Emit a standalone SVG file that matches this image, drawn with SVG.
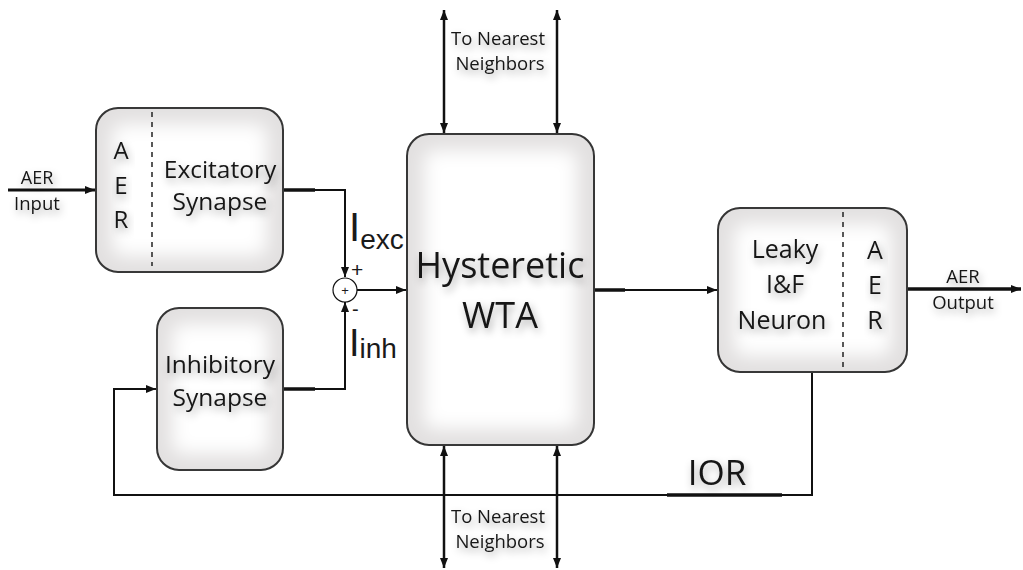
<svg xmlns="http://www.w3.org/2000/svg" width="1023" height="570" viewBox="0 0 1023 570">
<defs>
<marker id="ah" viewBox="0 0 10 10" refX="10" refY="5" markerWidth="10" markerHeight="10" markerUnits="userSpaceOnUse" orient="auto-start-reverse">
<path d="M0,1 L10,5 L0,9 Z" fill="#111"/>
</marker>
<filter id="ts" x="-30%" y="-60%" width="160%" height="220%">
<feGaussianBlur in="SourceAlpha" stdDeviation="4"/>
<feOffset dx="2" dy="4"/>
<feComponentTransfer><feFuncA type="linear" slope="0.35"/></feComponentTransfer>
<feMerge><feMergeNode/><feMergeNode in="SourceGraphic"/></feMerge>
</filter>
<filter id="glow" x="-20%" y="-20%" width="140%" height="140%">
<feGaussianBlur stdDeviation="9"/>
</filter>
</defs>
<style>
.box{fill:#e2e0e0;stroke:#333;stroke-width:2}
.inner{fill:#fff;filter:url(#glow)}
.t{font-family:"Open Sans","Liberation Sans",sans-serif;fill:#161616;text-anchor:middle;filter:url(#ts)}
.h{font-family:"Liberation Sans",Arial,sans-serif;fill:#1a1a1a}
.ln{fill:none;stroke:#111;stroke-width:2}
.thk{fill:none;stroke:#111;stroke-width:3.5}
.dash{stroke:#222;stroke-width:1.5;stroke-dasharray:5,5}
</style>
<rect width="1023" height="570" fill="#fff"/>

<g id="connectors">
<path class="ln" d="M8,190 H95" marker-end="url(#ah)" style="stroke-width:3"/>
<path class="thk" d="M283,190 H315"/>
<path class="ln" d="M314,190 H345 V277" marker-end="url(#ah)"/>
<path class="thk" d="M283,389 H315"/>
<path class="ln" d="M314,389 H345 V302" marker-end="url(#ah)"/>
<path class="ln" d="M357,290 H406" marker-end="url(#ah)"/>
<path class="thk" d="M594,290 H625"/>
<path class="ln" d="M624,290 H717" marker-end="url(#ah)"/>
<path class="thk" d="M907,289 H1021" marker-end="url(#ah)"/>
<path class="ln" d="M812,372 V495 H114 V389 H156" marker-end="url(#ah)"/>
<path class="thk" d="M667,495 H782"/>
<path class="ln" d="M444,10 V133" marker-start="url(#ah)" marker-end="url(#ah)" style="stroke-width:2.5"/>
<path class="ln" d="M557,10 V133" marker-start="url(#ah)" marker-end="url(#ah)" style="stroke-width:2.5"/>
<path class="ln" d="M444,446 V568" marker-start="url(#ah)" marker-end="url(#ah)" style="stroke-width:2.5"/>
<path class="ln" d="M557,446 V568" marker-start="url(#ah)" marker-end="url(#ah)" style="stroke-width:2.5"/>
</g>

<g id="sum">
<circle cx="345" cy="290" r="12" fill="#fff" stroke="#111" stroke-width="1.2"/>
<text class="h" x="345" y="295" font-size="13" text-anchor="middle">+</text>
<text class="h" x="351" y="277" font-size="21">+</text>
<text class="h" x="352" y="316" font-size="20">-</text>
<text class="h" x="349" y="241" font-size="40">I<tspan font-size="28" dy="8">exc</tspan></text>
<text class="h" x="349" y="356" font-size="38">I<tspan font-size="28" dy="2">inh</tspan></text>
</g>

<g id="labels">
<text class="t" x="37" y="184" font-size="18">AER</text>
<text class="t" x="37" y="210" font-size="18.5">Input</text>
<text class="t" x="498" y="45" font-size="18.5">To Nearest</text>
<text class="t" x="500" y="70" font-size="18.5">Neighbors</text>
<text class="t" x="498" y="523" font-size="18.5">To Nearest</text>
<text class="t" x="500" y="548" font-size="18.5">Neighbors</text>
<text class="t" x="963" y="283" font-size="18.5">AER</text>
<text class="t" x="963" y="309" font-size="18.5">Output</text>
<text class="t" x="717" y="485" font-size="35">IOR</text>
</g>

<g id="excitatory">
<rect class="box" x="96" y="108" width="187" height="164" rx="22"/>
<rect class="inner" x="112" y="124" width="155" height="132" rx="10"/>
<line class="dash" x1="152" y1="112" x2="152" y2="266"/>
<text class="t" x="121" y="159" font-size="24">A</text>
<text class="t" x="121" y="194" font-size="24">E</text>
<text class="t" x="121" y="228" font-size="24">R</text>
<text class="t" x="220" y="178" font-size="24.5">Excitatory</text>
<text class="t" x="220" y="210" font-size="24.5">Synapse</text>
</g>

<g id="inhibitory">
<rect class="box" x="157" y="308" width="126" height="162" rx="22"/>
<rect class="inner" x="172" y="324" width="96" height="130" rx="10"/>
<text class="t" x="220" y="373" font-size="24.5">Inhibitory</text>
<text class="t" x="220" y="406" font-size="24.5">Synapse</text>
</g>

<g id="wta">
<rect class="box" x="407" y="134" width="187" height="311" rx="22"/>
<rect class="inner" x="424" y="150" width="153" height="279" rx="10"/>
<text class="t" x="500" y="278" font-size="36">Hysteretic</text>
<text class="t" x="500" y="328" font-size="36">WTA</text>
</g>

<g id="neuron">
<rect class="box" x="718" y="208" width="189" height="164" rx="22"/>
<rect class="inner" x="734" y="224" width="157" height="132" rx="10"/>
<line class="dash" x1="843" y1="212" x2="843" y2="368"/>
<text class="t" x="785" y="258" font-size="25">Leaky</text>
<text class="t" x="785" y="293" font-size="25">I&amp;F</text>
<text class="t" x="782" y="329" font-size="25">Neuron</text>
<text class="t" x="875" y="259" font-size="25">A</text>
<text class="t" x="875" y="294" font-size="25">E</text>
<text class="t" x="875" y="329" font-size="25">R</text>
</g>
</svg>
